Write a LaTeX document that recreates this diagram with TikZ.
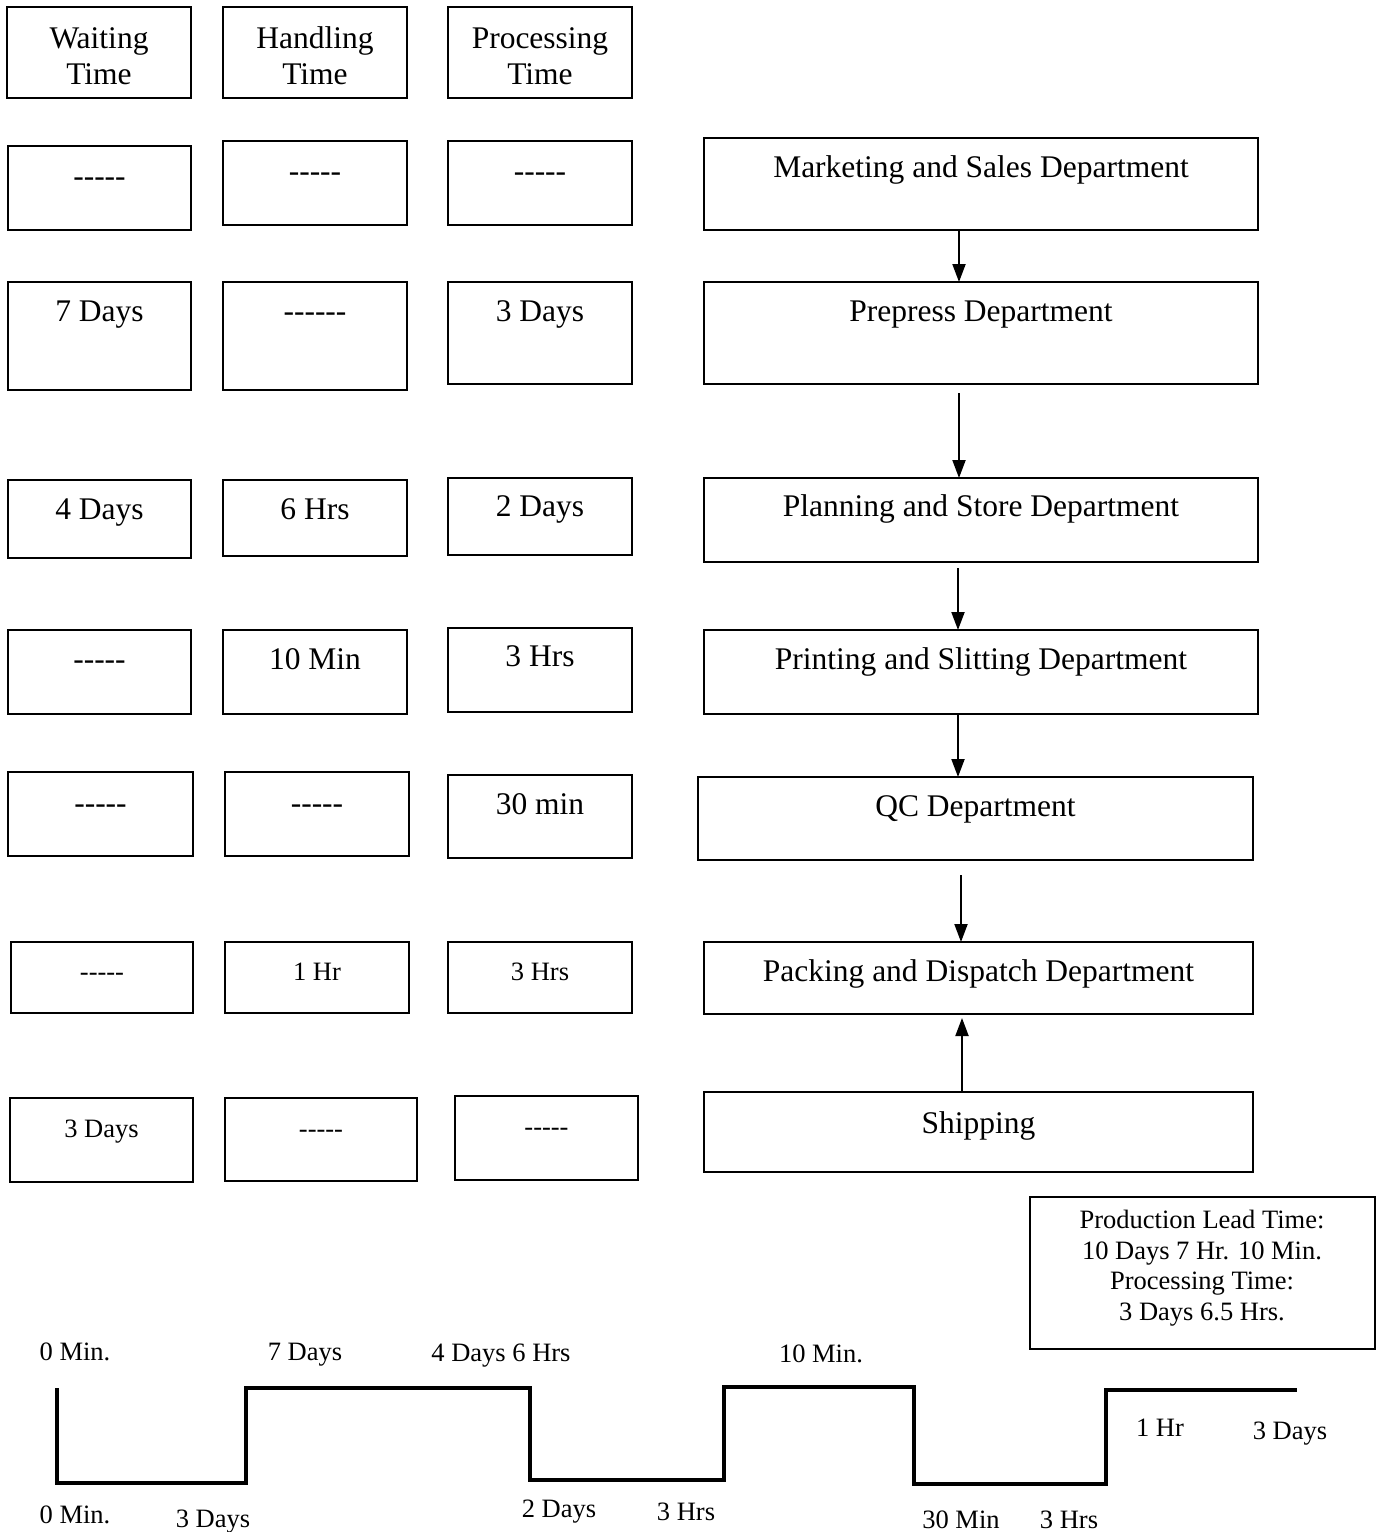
\documentclass[tikz,border=0pt]{standalone}
\usepackage{fontspec}
\setmainfont{Liberation Serif}
\usetikzlibrary{arrows.meta}

\newcommand\bigtxt{\fontsize{31.5}{36}\selectfont}
\newcommand\smalltxt{\fontsize{26.5}{31}\selectfont}
% a row of plain hyphens, kept apart so they are not joined into dashes
\newcommand\blankmark{-{}-{}-{}-{}-}

% \cell{name}{x1}{y1}{x2}{y2}{text y}{font}{text}
\newcommand\cell[8]{%
  \node[cellbox, minimum width={#4-#2}, minimum height={#5-#3}] (#1) at ({(#2+#4)/2},{(#3+#5)/2}) {};
  \node[celltxt, font=#7] (#1t) at ({(#2+#4)/2},#6) {#8};}

\begin{document}
\begin{tikzpicture}[x=1pt, y=-1pt,
  cellbox/.style={draw, line width=1.7pt, inner sep=0pt, outer sep=0pt},
  celltxt/.style={anchor=mid, inner sep=0pt, yshift=-7.5pt},
  hdrtxt/.style={align=center, inner sep=0pt, font=\bigtxt},
  flow/.style={line width=2pt, -{Triangle[length=18pt, width=13pt]}},
  wave/.style={line width=3.2pt, line join=miter},
  tlabel/.style={anchor=mid, inner sep=0pt, yshift=-6pt, font=\smalltxt}]
\useasboundingbox (0,0) rectangle (1380,1532);

% column headers
\node[cellbox, minimum width=184, minimum height=91] (w0) at (99,52.5) {};
\node[cellbox, minimum width=184, minimum height=91] (h0) at (315,52.5) {};
\node[cellbox, minimum width=184, minimum height=91] (p0) at (540,52.5) {};
\node[hdrtxt] (w0t) at (99,56) {Waiting\\Time};
\node[hdrtxt] (h0t) at (315,56) {Handling\\Time};
\node[hdrtxt] (p0t) at (540,56) {Processing\\Time};

% Marketing and Sales
\cell{w1}{8}{146}{191}{230}{177}{\bigtxt}{\blankmark}
\cell{h1}{223}{141}{407}{225}{172}{\bigtxt}{\blankmark}
\cell{p1}{448}{141}{632}{225}{172}{\bigtxt}{\blankmark}
\cell{d1}{704}{138}{1258}{230}{168}{\bigtxt}{Marketing and Sales Department}

% Prepress
\cell{w2}{8}{282}{191}{390}{312}{\bigtxt}{7 Days}
\cell{h2}{223}{282}{407}{390}{312}{\bigtxt}{\blankmark{}-}
\cell{p2}{448}{282}{632}{384}{312}{\bigtxt}{3 Days}
\cell{d2}{704}{282}{1258}{384}{312}{\bigtxt}{Prepress Department}

% Planning and Store
\cell{w3}{8}{480}{191}{558}{510}{\bigtxt}{4 Days}
\cell{h3}{223}{480}{407}{556}{510}{\bigtxt}{6 Hrs}
\cell{p3}{448}{478}{632}{555}{507}{\bigtxt}{2 Days}
\cell{d3}{704}{478}{1258}{562}{507}{\bigtxt}{Planning and Store Department}

% Printing and Slitting
\cell{w4}{8}{630}{191}{714}{660}{\bigtxt}{\blankmark}
\cell{h4}{223}{630}{407}{714}{660}{\bigtxt}{10 Min}
\cell{p4}{448}{628}{632}{712}{657}{\bigtxt}{3 Hrs}
\cell{d4}{704}{630}{1258}{714}{660}{\bigtxt}{Printing and Slitting Department}

% QC
\cell{w5}{8}{772}{193}{856}{804}{\bigtxt}{\blankmark}
\cell{h5}{225}{772}{409}{856}{804}{\bigtxt}{\blankmark}
\cell{p5}{448}{775}{632}{858}{805}{\bigtxt}{30 min}
\cell{d5}{698}{777}{1253}{860}{807}{\bigtxt}{QC Department}

% Packing and Dispatch
\cell{w6}{11}{942}{193}{1013}{971}{\smalltxt}{\blankmark}
\cell{h6}{225}{942}{409}{1013}{971}{\smalltxt}{1 Hr}
\cell{p6}{448}{942}{632}{1013}{971}{\smalltxt}{3 Hrs}
\cell{d6}{704}{942}{1253}{1014}{972}{\bigtxt}{Packing and Dispatch Department}

% Shipping
\cell{w7}{10}{1098}{193}{1182}{1128}{\smalltxt}{3 Days}
\cell{h7}{225}{1098}{417}{1181}{1128}{\smalltxt}{\blankmark}
\cell{p7}{455}{1096}{638}{1180}{1126}{\smalltxt}{\blankmark}
\cell{d7}{704}{1092}{1253}{1172}{1124}{\bigtxt}{Shipping}

% department flow
\draw[flow] ([xshift=-22pt]d1.south) -- ([xshift=-22pt]d2.north);
\draw[flow] ([xshift=-22pt, yshift=-9pt]d2.south) -- ([xshift=-22pt]d3.north);
\draw[flow] ([xshift=-23pt, yshift=-6pt]d3.south) -- ([xshift=-23pt]d4.north);
\draw[flow] ([xshift=-23pt]d4.south) -- ([xshift=-17.5pt]d5.north);
\draw[flow] ([xshift=-14.5pt, yshift=-15pt]d5.south) -- ([xshift=-17.5pt]d6.north);
\draw[flow] ([xshift=-16.5pt]d7.north) -- ([xshift=-16.5pt, yshift=-4pt]d6.south);

% summary
\node[cellbox, minimum width=345, minimum height=152] (lead) at (1202.5,1273) {};
\node[align=center, inner sep=0pt, font=\fontsize{26.5}{30.7}\selectfont] (leadt) at (1202,1268)
  {Production Lead Time:\\10 Days 7 Hr. 10 Min.\\Processing Time:\\3 Days 6.5 Hrs.};

% lead time ladder
\coordinate (t0) at (57,1388);
\coordinate (t1) at (57,1483);
\coordinate (t2) at (246,1483);
\coordinate (t3) at (246,1388);
\coordinate (t4) at (530,1388);
\coordinate (t5) at (530,1480);
\coordinate (t6) at (724,1480);
\coordinate (t7) at (724,1387);
\coordinate (t8) at (914,1387);
\coordinate (t9) at (914,1484);
\coordinate (t10) at (1106,1484);
\coordinate (t11) at (1106,1390);
\coordinate (t12) at (1297,1390);
\draw[wave] (t0) -- (t1) -- (t2) -- (t3) -- (t4) -- (t5) -- (t6) -- (t7) -- (t8) -- (t9) -- (t10) -- (t11) -- (t12);

\node[tlabel] (u1) at (75,1352) {0 Min.};
\node[tlabel] (u2) at (305,1352) {7 Days};
\node[tlabel] (u3) at (501,1353) {4 Days 6 Hrs};
\node[tlabel] (u4) at (821,1354) {10 Min.};
\node[tlabel] (u5) at (1160,1428) {1 Hr};
\node[tlabel] (u6) at (1290,1431) {3 Days};
\node[tlabel] (l1) at (75,1515) {0 Min.};
\node[tlabel] (l2) at (213,1519) {3 Days};
\node[tlabel] (l3) at (559,1509) {2 Days};
\node[tlabel] (l4) at (686,1512) {3 Hrs};
\node[tlabel] (l5) at (961,1520) {30 Min};
\node[tlabel] (l6) at (1069,1520) {3 Hrs};
\end{tikzpicture}
\end{document}
